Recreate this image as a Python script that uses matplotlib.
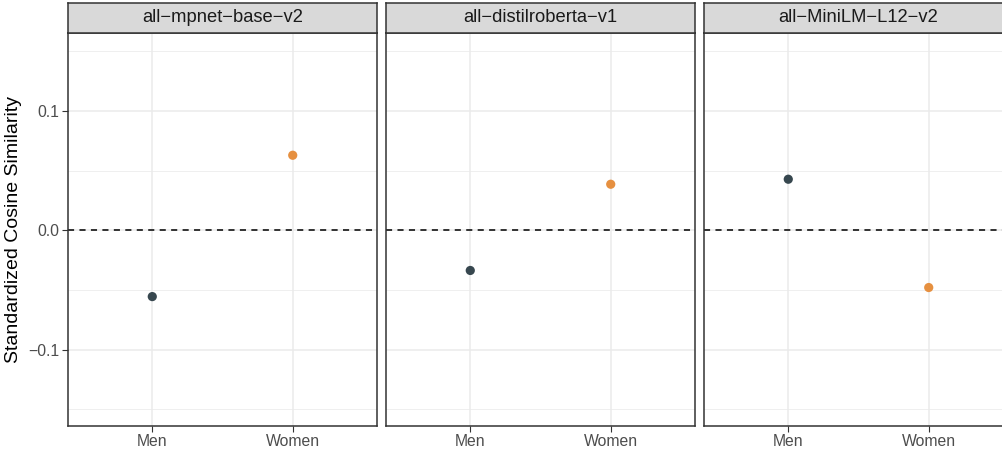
import matplotlib.pyplot as plt
import numpy as np

plt.rcParams["font.family"] = ["Liberation Sans", "DejaVu Sans"]

# data
models = ["all\u2212mpnet\u2212base\u2212v2", "all\u2212distilroberta\u2212v1", "all\u2212MiniLM\u2212L12\u2212v2"]
groups = ["Men", "Women"]
values = {
    models[0]: [-0.0555, 0.0630],
    models[1]: [-0.0336, 0.0387],
    models[2]: [0.0429, -0.0479],
}
group_colors = ["#37474F", "#E69040"]
yticks = [-0.1, 0.0, 0.1]
yminor = [-0.15, -0.05, 0.05, 0.15]
ylim = (-0.164, 0.1655)

W, H = 1002, 453
fig = plt.figure(figsize=(W / 100, H / 100), dpi=100)

# the reference is cropped on the right, third panel runs off the edge
panel_left = [68, 386, 704]
panel_w = 309
panel_top, panel_bot = 33, 426
strip_top = 3

dark = "#333333"
for i, (model, x0) in enumerate(zip(models, panel_left)):
    last = i == len(models) - 1
    ax = fig.add_axes([x0 / W, 1 - panel_bot / H, panel_w / W, (panel_bot - panel_top) / H])
    xs = np.arange(1, len(groups) + 1)
    for x in xs:
        ax.axvline(x, color="#EBEBEB", lw=1.1, zorder=0)
    for y in yticks:
        ax.axhline(y, color="#EBEBEB", lw=1.1, zorder=0)
    for y in yminor:
        ax.axhline(y, color="#EBEBEB", lw=0.55, zorder=0)
    ax.axhline(0, color="black", lw=1.1, ls=(0, (4, 3.5)), zorder=1)
    ax.scatter(xs, values[model], c=group_colors, s=44, linewidths=0, zorder=3)

    ax.set_xlim(0.4, 2.6)
    ax.set_ylim(*ylim)
    ax.set_xticks(xs)
    ax.set_xticklabels(groups)
    ax.set_yticks(yticks)
    ax.tick_params(axis="both", labelsize=11.3, labelcolor="#4D4D4D", color=dark,
                   length=4, width=0.8, pad=2)
    if i == 0:
        ax.set_yticklabels(["\u22120.1", "0.0", "0.1"])
        ax.set_ylabel("Standardized Cosine Similarity", fontsize=14, labelpad=5)
    else:
        ax.set_yticklabels([])
        ax.tick_params(axis="y", length=0)
    for s in ax.spines.values():
        s.set_color(dark)
        s.set_linewidth(1.1)

    sax = fig.add_axes([x0 / W, 1 - panel_top / H, panel_w / W, (panel_top - strip_top) / H])
    sax.set_facecolor("#D9D9D9")
    sax.set_xticks([])
    sax.set_yticks([])
    for s in sax.spines.values():
        s.set_color(dark)
        s.set_linewidth(1.1)
    if last:
        ax.spines["right"].set_visible(False)
        sax.spines["right"].set_visible(False)
    sax.text(0.5, 0.5, model, ha="center", va="center", fontsize=13.2,
             color="#1A1A1A", transform=sax.transAxes)

fig.savefig("out.png", dpi=100)
